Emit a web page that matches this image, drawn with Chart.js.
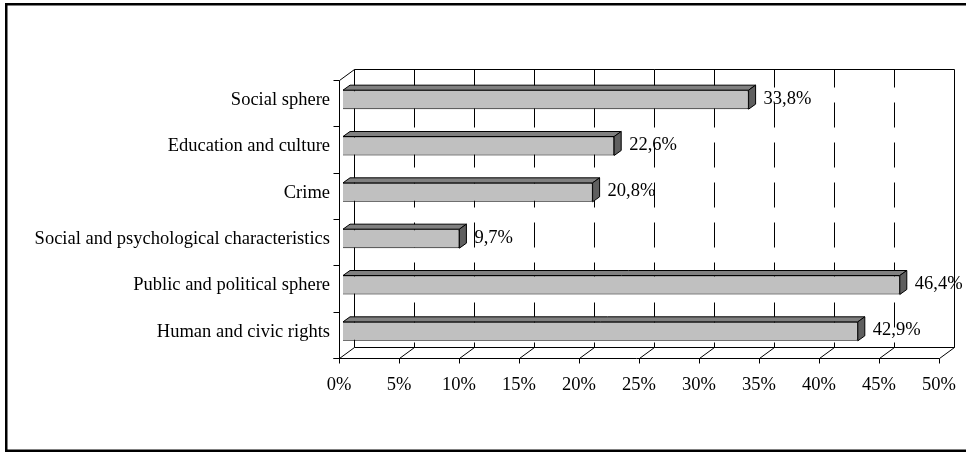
<!DOCTYPE html>
<html>
<head>
<meta charset="utf-8">
<script src="https://cdn.jsdelivr.net/npm/chart.js@4/dist/chart.umd.min.js"></script>
<style>
  html, body { margin: 0; padding: 0; background: #fff; }
  canvas { display: block; }
</style>
</head>
<body>
<canvas id="shareChart" width="966" height="452"></canvas>
<script>
// Data (top to bottom)
const categories = [
  'Social sphere',
  'Education and culture',
  'Crime',
  'Social and psychological characteristics',
  'Public and political sphere',
  'Human and civic rights'
];
const shares = [33.8, 22.6, 20.8, 9.7, 46.4, 42.9];
const axisMin = 0;
const axisMax = 50;
const axisStep = 5;

// 3D look: wall depth, bar depth and where the bar front sits inside the box
const wallDepth = { x: 15, y: -11 };
const barDepth = { x: 7, y: -5 };
const barShift = { x: 4, y: -3.5 };
const serif = "'Liberation Serif', 'Times New Roman', serif";
const fontSize = 18.5;

function line(ctx, x1, y1, x2, y2) {
  ctx.beginPath();
  ctx.moveTo(x1, y1);
  ctx.lineTo(x2, y2);
  ctx.stroke();
}

// Frame, walls, floor and gridlines
const boxPlugin = {
  id: 'box3d',
  beforeDraw(chart) {
    const ctx = chart.ctx;
    ctx.save();
    ctx.strokeStyle = '#000';
    ctx.lineWidth = 2.5;
    ctx.strokeRect(6.25, 4.25, 1000, 446.5);
    ctx.restore();
  },
  beforeDatasetsDraw(chart) {
    const { ctx, chartArea: a, scales } = chart;
    const xs = scales.x, ys = scales.y;
    const left = Math.round(a.left) + 0.5;
    const right = Math.round(xs.getPixelForValue(axisMax)) + 0.5;
    const top = Math.round(a.top) + 0.5;
    const bottom = Math.round(a.bottom) + 0.5;
    const dx = wallDepth.x, dy = wallDepth.y;

    ctx.save();
    ctx.strokeStyle = '#000';
    ctx.lineWidth = 1;

    // dashed gridlines on the back wall
    ctx.setLineDash([25, 15]);
    ctx.lineDashOffset = 7;
    xs.ticks.forEach(t => {
      if (t.value <= axisMin || t.value >= axisMax) return;
      const px = Math.round(xs.getPixelForValue(t.value)) + 0.5 + dx;
      line(ctx, px, top + dy, px, bottom + dy);
    });
    ctx.setLineDash([]);

    // back wall outline
    line(ctx, left + dx, top + dy, right + dx, top + dy);
    line(ctx, left + dx, top + dy, left + dx, bottom + dy);
    line(ctx, right + dx, top + dy, right + dx, bottom + dy);
    // floor
    line(ctx, left + dx, bottom + dy, right + dx, bottom + dy);
    line(ctx, left - 6, bottom, right, bottom);
    xs.ticks.forEach(t => {
      const px = Math.round(xs.getPixelForValue(t.value)) + 0.5;
      line(ctx, px, bottom, px + dx, bottom + dy);
      line(ctx, px, bottom, px, bottom + 5);
    });
    // left wall front edge
    line(ctx, left, top, left, bottom);
    line(ctx, left, top, left + dx, top + dy);
    // category ticks
    for (let i = 0; i <= categories.length; i++) {
      const py = Math.round(ys.getPixelForValue(i - 0.5)) + 0.5;
      line(ctx, left - 6, py, left, py);
    }
    ctx.restore();

    // move the bar fronts slightly into the box
    ctx.save();
    ctx.translate(barShift.x, barShift.y);
  },
  afterDatasetsDraw(chart) {
    const ctx = chart.ctx;
    ctx.restore();

    const meta = chart.getDatasetMeta(0);
    ctx.save();
    ctx.strokeStyle = '#000';
    ctx.lineWidth = 1;
    ctx.lineJoin = 'miter';
    meta.data.forEach((bar, i) => {
      const p = bar.getProps(['x', 'y', 'base', 'height'], true);
      const L = p.base + barShift.x;
      const R = p.x + barShift.x;
      const T = p.y - p.height / 2 + barShift.y;
      const Bt = p.y + p.height / 2 + barShift.y;
      const bx = barDepth.x, by = barDepth.y;

      // top face
      ctx.beginPath();
      ctx.moveTo(L, T);
      ctx.lineTo(L + bx, T + by);
      ctx.lineTo(R + bx, T + by);
      ctx.lineTo(R, T);
      ctx.closePath();
      ctx.fillStyle = '#808080';
      ctx.fill();
      ctx.stroke();

      // side face
      ctx.beginPath();
      ctx.moveTo(R, T);
      ctx.lineTo(R + bx, T + by);
      ctx.lineTo(R + bx, Bt + by);
      ctx.lineTo(R, Bt);
      ctx.closePath();
      ctx.fillStyle = '#5f5f5f';
      ctx.fill();
      ctx.stroke();

      // value label
      ctx.fillStyle = '#000';
      ctx.font = fontSize + 'px ' + serif;
      ctx.textAlign = 'left';
      ctx.textBaseline = 'middle';
      const text = shares[i].toFixed(1).replace('.', ',') + '%';
      ctx.fillText(text, R + bx + 8, p.y + barShift.y - 1);
    });
    ctx.restore();
  }
};

const chartCanvas = document.getElementById('shareChart');

new Chart(chartCanvas, {
  type: 'bar',
  data: {
    labels: categories,
    datasets: [{
      data: shares,
      backgroundColor: '#c0c0c0',
      borderColor: '#000',
      borderWidth: 1,
      barPercentage: 0.41,
      categoryPercentage: 1
    }]
  },
  options: {
    indexAxis: 'y',
    responsive: false,
    animation: false,
    devicePixelRatio: 1,
    layout: {
      padding: { left: 0, right: 27, top: 80, bottom: 0 }
    },
    plugins: {
      legend: { display: false },
      tooltip: { enabled: false }
    },
    scales: {
      x: {
        min: axisMin,
        max: axisMax,
        grid: { display: false, drawTicks: false },
        border: { display: false },
        ticks: {
          stepSize: axisStep,
          padding: 16,
          color: '#000',
          font: { family: serif, size: fontSize },
          maxRotation: 0,
          callback: v => v + '%'
        },
        afterFit(scale) {
          scale.height = 94;
          scale.paddingLeft = 0;
          scale.paddingRight = 0;
        }
      },
      y: {
        grid: { display: false, drawTicks: false },
        border: { display: false },
        ticks: {
          padding: 9,
          labelOffset: -3,
          color: '#000',
          font: { family: serif, size: fontSize }
        },
        afterFit(scale) {
          scale.width = 339;
          scale.paddingTop = 0;
          scale.paddingBottom = 0;
        }
      }
    }
  },
  plugins: [boxPlugin]
});
</script>
</body>
</html>
